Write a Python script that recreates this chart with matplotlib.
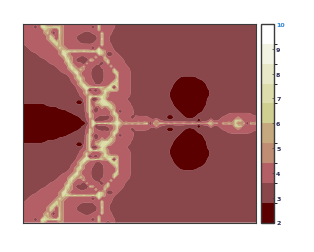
import numpy as np
import matplotlib
matplotlib.use("Agg")
import matplotlib.pyplot as plt
from matplotlib.cm import ScalarMappable
from matplotlib.colors import BoundaryNorm, ListedColormap

# band index, upper half only, top row first (the last row is the centre line)
# left part of the field
field_left = [
    "2222225422" "2234222222" "2222252212" "2111111111",
    "2222126655" "6653222222" "2221262222" "2111111111",
    "2222222543" "2263222222" "2222252222" "1111111111",
    "2222222363" "1263222222" "1112226222" "1111111111",
    "2222222236" "3253222211" "1111125221" "1111111111",
    "2222222235" "5253222211" "1111126221" "1111111111",
    "2222222223" "6543222221" "1111225221" "1111111111",
    "1222222222" "3643222222" "2222226222" "1111111111",
    "1122222222" "2364322222" "2221262222" "1111111111",
    "1112222222" "2236565655" "6556565322" "2111111111",
    "1111122222" "2236632222" "2222265311" "2211111111",
    "1111112222" "2223643221" "1222522622" "2221111111",
    "1111111122" "2222563211" "1164222452" "2222111111",
    "1111111112" "2222364222" "1622221262" "2222111111",
    "1111111111" "1222256322" "6222112226" "2222211111",
    "1111111111" "1122236536" "3221111222" "6222221111",
    "1111111111" "1112223663" "2221111222" "5522221111",
    "1111111111" "1111122363" "2221111222" "2622221111",
    "1111111111" "1111112356" "3221111222" "2522221111",
    "1111111111" "1111112236" "3222111222" "4622221111",
    "1111111111" "1111111235" "6322112225" "6522221111",
    "1111111111" "1111111123" "6655655366" "1622221111",
    "1111111111" "1111111122" "3611124655" "5422221111",
    "1111111111" "1111111112" "3632223632" "2222221111",
    "1111111111" "1111111112" "2365656532" "2222221111",
    "1111111111" "1111111111" "2361136522" "2222211111",
    "1111111111" "1111111100" "2362456653" "2222221111",
    "0000000011" "1111111111" "1362335665" "3222221111",
    "0000000000" "0011111111" "1363123236" "4222222111",
    "0000000000" "0000011111" "1362122223" "6212222111",
    "0000000000" "0000000111" "1263222223" "6522222111",
    "0000000000" "0000000001" "1263211112" "3622221222",
    "0000000000" "0000000000" "1236111122" "3632222222",
    "0000000000" "0000000000" "0136565656" "5753535353",
]
# right part of the field, short rows are filled up with band 1
field_right = [
    "", "", "", "", "", "", "", "", "", "", "", "", "", "", "", "", "", "",
    "111111111111000000",
    "11111111111000000000",
    "111111111100000000000",
    "111111111100000000000",
    "1111111110000000000000",
    "1111111110000000000000",
    "1111111110000000000000",
    "111111111000000000000",
    "111111111100000000000",
    "111111111100000000000",
    "11111111111000000000",
    "11111111111100000000",
    "1111111111111000001111111111" "22222222",
    "22111111001111000111111111" "222223222222",
    "22224211111111111101113112222255522222",
    "56163553" "5353353353533553" "5253535" "33616353" "5353",
]
tick_values = [2, 3, 4, 5, 6, 7, 8, 9, 10]
band_colors = ["#5a0000", "#8a474b", "#b45f66", "#bf8c74", "#c6a87e",
               "#cfcf92", "#dcdcac", "#e8e8c8", "#f3f3e4", "#ffffff"]

levels = np.linspace(2, 10, 11)


# squeeze the high values so the pale lines stay thin between the grid points
def squeeze(v):
    return -np.exp(-1.4 * (v - 2) / 0.8)


# round off the stair steps of the big dark and pink areas, lone spots stay as read
def soften(grid):
    base = np.clip(grid, 0, 2).astype(float)
    p = np.pad(base, 1, mode="edge")
    kernel = np.array([[1, 2, 1], [2, 4, 2], [1, 2, 1]]) / 16
    out = np.zeros_like(base)
    for i in range(3):
        for j in range(3):
            out += kernel[i, j] * p[i:i + base.shape[0], j:j + base.shape[1]]
    same = ((p[:-2, 1:-1] == base).astype(int) + (p[2:, 1:-1] == base)
            + (p[1:-1, :-2] == base) + (p[1:-1, 2:] == base))
    out[same <= 1] = base[same <= 1]
    return np.where(grid >= 3, grid, out)


rows = []
for left, right in zip(field_left, field_right):
    rows.append([int(ch) for ch in (left + right).ljust(78, "1")[:78]])
half = np.array(rows)
bands = np.vstack([half, half[-2::-1]])
z = 2 + 0.8 * (soften(bands) + 0.5)

fig = plt.figure(figsize=(3.14, 2.53), dpi=100)
ax = fig.add_axes([23.3 / 314, 1 - 223.5 / 253, 233 / 314, 198.5 / 253])
cs = ax.contourf(np.arange(z.shape[1]), np.arange(z.shape[0]), squeeze(z),
                 levels=squeeze(levels), colors=band_colors, antialiased=True)
cs.set_edgecolor("face")
cs.set_linewidth(0.2)
ax.set_ylim(z.shape[0] - 1, 0)
ax.set_xticks([])
ax.set_yticks([])
for s in ax.spines.values():
    s.set_linewidth(0.8)
    s.set_color("#3a3a3a")

cax = fig.add_axes([261 / 314, 1 - 223.5 / 253, 13 / 314, 198.5 / 253])
sm = ScalarMappable(norm=BoundaryNorm(levels, len(band_colors)), cmap=ListedColormap(band_colors))
cb = fig.colorbar(sm, cax=cax, ticks=tick_values, spacing="proportional")
cb.outline.set_edgecolor("#3a3a3a")
cb.outline.set_linewidth(1.0)
cax.tick_params(direction="in", length=1.5, width=0.5, color="#404040", labelsize=4.5, pad=1.5)
for lab in cax.get_yticklabels():
    lab.set_color("#2a2a55")
    lab.set_fontweight("bold")
cax.get_yticklabels()[-1].set_color("#2f86d8")

fig.savefig("out.png", dpi=100)
